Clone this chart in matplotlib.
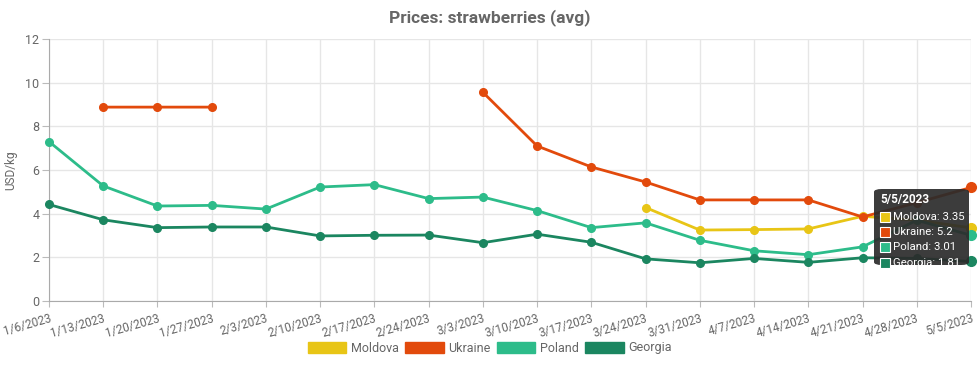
import matplotlib
matplotlib.use("Agg")
import matplotlib.pyplot as plt
import numpy as np
from matplotlib.patches import FancyBboxPatch, Rectangle

plt.rcParams['font.family'] = ['Roboto', 'DejaVu Sans']

dates = ["1/6/2023", "1/13/2023", "1/20/2023", "1/27/2023", "2/3/2023", "2/10/2023",
         "2/17/2023", "2/24/2023", "3/3/2023", "3/10/2023", "3/17/2023", "3/24/2023",
         "3/31/2023", "4/7/2023", "4/14/2023", "4/21/2023", "4/28/2023", "5/5/2023"]
nan = np.nan
moldova = [nan, nan, nan, nan, nan, nan, nan, nan, nan, nan, nan, 4.28,
           3.25, 3.27, 3.30, 3.88, 3.70, 3.35]
ukraine = [nan, 8.88, 8.88, 8.88, nan, nan, nan, nan, 9.56, 7.10, 6.14, 5.45,
           4.63, 4.63, 4.63, 3.85, 4.50, 5.2]
poland = [7.30, 5.27, 4.35, 4.38, 4.21, 5.22, 5.33, 4.69, 4.76, 4.14, 3.36, 3.58,
          2.78, 2.30, 2.12, 2.48, 3.70, 3.01]
georgia = [4.42, 3.72, 3.36, 3.39, 3.39, 2.98, 3.01, 3.02, 2.67, 3.06, 2.69, 1.93,
           1.75, 1.95, 1.77, 1.98, 1.95, 1.81]

series = [("Moldova", moldova, "#e8c516"), ("Ukraine", ukraine, "#e24a0c"),
          ("Poland", poland, "#2dbc8a"), ("Georgia", georgia, "#1b8660")]

fig = plt.figure(figsize=(9.79, 3.65), dpi=100)
ax = fig.add_axes([49/979, 1-301/365, (971-49)/979, (301-39)/365])
x = np.arange(len(dates))
for name, vals, col in series:
    ax.plot(x, vals, color=col, lw=2.0, marker='o', ms=5.5, zorder=3, clip_on=False)
    ax.plot([x[-1]], [vals[-1]], 'o', color=col, ms=7, zorder=4, clip_on=False)

ax.set_xlim(0, len(dates)-1)
ax.set_ylim(0, 12)
ax.set_yticks(range(0, 13, 2))
ax.set_xticks(x)
ax.set_xticklabels(dates, rotation=16, ha='right', rotation_mode='anchor')
ax.tick_params(axis='x', colors='#bbbbbb', labelcolor='#666666', labelsize=8.5, length=4, pad=4)
ax.tick_params(axis='y', colors='#bbbbbb', labelcolor='#666666', labelsize=9, length=5, pad=2)
ax.grid(True, color='#e6e6e6', lw=1)
ax.set_axisbelow(True)
for s in ['top', 'right']:
    ax.spines[s].set_visible(False)
for s in ['left', 'bottom']:
    ax.spines[s].set_color('#aaaaaa')
ax.set_ylabel("USD/kg", color='#666666', fontsize=8.5, labelpad=6)

fig.text(0.5, 1-18/365, "Prices: strawberries (avg)", ha='center', va='center',
         fontsize=12.5, fontweight='bold', color='#666666')

# legend
handles = [Rectangle((0, 0), 1, 1, facecolor=c, edgecolor=c) for _, _, c in series]
fig.legend(handles, [n for n, _, _ in series], loc='center', bbox_to_anchor=(0.5, 1-348/365),
           ncol=4, frameon=False, fontsize=9, handlelength=3.1, handleheight=1.0,
           columnspacing=0.5, handletextpad=0.35, labelcolor='#666666')

# tooltip
tx0, ty0, tw, th = 874/979, 1-265/365, 95/979, 76/365
box = FancyBboxPatch((tx0, ty0), tw, th, boxstyle="round,pad=0,rounding_size=0.008",
                     transform=fig.transFigure, facecolor='#2b2b2b', edgecolor='none',
                     alpha=0.92, zorder=10)
fig.patches.append(box)
fig.text(880/979, 1-200/365, dates[-1], color='white', fontsize=8.5, fontweight='bold',
         va='center', ha='left', zorder=11)
for i, (name, vals, col) in enumerate(series):
    yy = 1-(217+i*15.2)/365
    fig.patches.append(Rectangle((880/979, yy-5/365), 10/979, 10/365, transform=fig.transFigure,
                                 facecolor=col, edgecolor='white', lw=0.8, zorder=11))
    fig.text(893/979, yy, f"{name}: {vals[-1]:g}", color='white', fontsize=8.2,
             va='center', ha='left', zorder=11)

fig.savefig("out.png", dpi=100)
